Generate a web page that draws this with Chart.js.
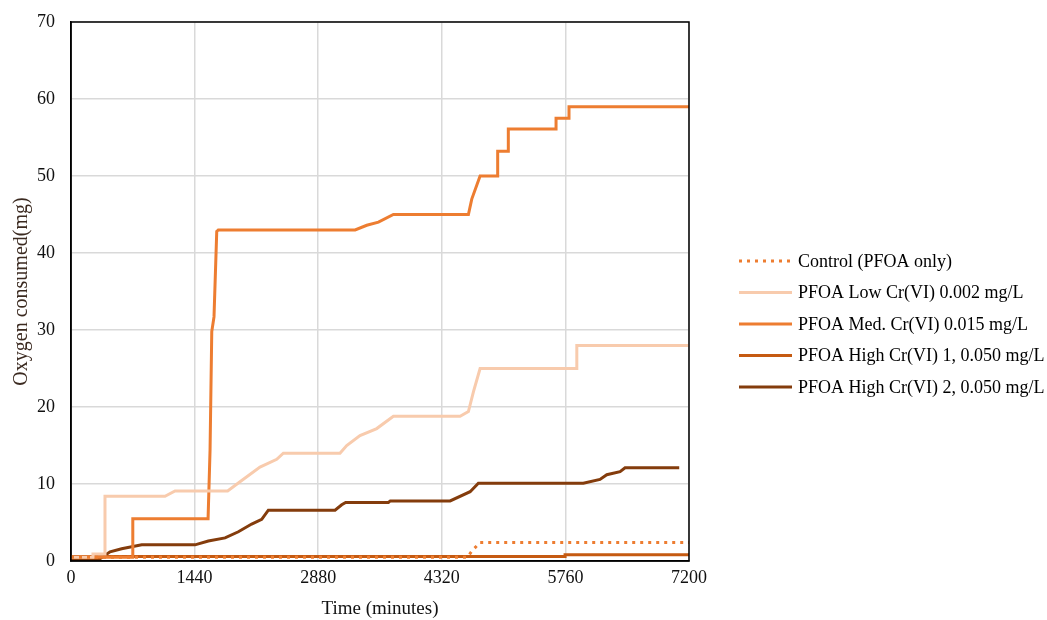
<!DOCTYPE html>
<html>
<head>
<meta charset="utf-8">
<script src="https://cdn.jsdelivr.net/npm/chart.js@4"></script>
<style>
  html, body { margin: 0; padding: 0; background: #fff; }
  #wrap { width: 1047px; height: 620px; }
</style>
</head>
<body>
<div id="wrap"><canvas id="myChart" width="1047" height="620"></canvas></div>
<script>
// values
const seriesNames = ["Control (PFOA only)", "PFOA Low Cr(VI) 0.002 mg/L", "PFOA Med. Cr(VI) 0.015 mg/L",
                     "PFOA High Cr(VI) 1, 0.050 mg/L", "PFOA High Cr(VI) 2, 0.050 mg/L"];

const controlTime = [0, 4620, 4670, 4766, 7200];
const controlO2   = [0.5, 0.5, 1.3, 2.4, 2.4];

const lowTime = [0, 256, 256, 396, 396, 1095, 1212, 1825, 1969, 2202, 2397, 2474, 3134, 3212, 3367, 3562, 3756,
                 4533, 4630, 4689, 4766, 5893, 5893, 7200];
const lowO2   = [0.5, 0.5, 0.9, 0.9, 8.4, 8.4, 9.1, 9.1, 10.3, 12.2, 13.2, 14.0, 14.0, 15.0, 16.3, 17.2, 18.8,
                 18.8, 19.4, 22.0, 25.0, 25.0, 28.0, 28.0];

const medTime = [0, 720, 720, 1597, 1620, 1640, 1666, 1698, 1716, 3310, 3446, 3582, 3756, 4630, 4669, 4766,
                 4971, 4971, 5095, 5095, 5651, 5651, 5802, 5802, 7200];
const medO2   = [0.5, 0.5, 5.5, 5.5, 14.4, 29.8, 31.7, 42.8, 43.0, 43.0, 43.6, 44.0, 45.0, 45.0, 47.0, 50.0,
                 50.0, 53.2, 53.2, 56.1, 56.1, 57.5, 57.5, 59.0, 59.0];

const high1Time = [0, 5756, 5756, 7200];
const high1O2   = [0.6, 0.6, 0.8, 0.8];

const high2Time = [0, 338, 455, 590, 824, 1445, 1600, 1795, 1950, 2105, 2222, 2299, 3076, 3154, 3200, 3698, 3720,
                   4417, 4650, 4746, 5969, 6163, 6242, 6397, 6455, 7086];
const high2O2   = [0.3, 0.3, 1.2, 1.6, 2.1, 2.1, 2.6, 3.0, 3.8, 4.8, 5.4, 6.6, 6.6, 7.3, 7.6, 7.6, 7.8,
                   7.8, 9.0, 10.1, 10.1, 10.6, 11.2, 11.6, 12.1, 12.1];

const xTicks = [0, 1440, 2880, 4320, 5760, 7200];

function pts(t, v) {
    return t.map((x, i) => ({x: x, y: v[i]}));
}

const serif = "'Liberation Serif', 'Times New Roman', serif";

// black frame round the plot area
const frame = {
    id: 'frame',
    afterDraw(chart) {
        const a = chart.chartArea, ctx = chart.ctx;
        ctx.save();
        ctx.strokeStyle = '#000';
        ctx.lineWidth = 1.5;
        ctx.strokeRect(a.left, a.top, a.right - a.left, a.bottom - a.top);
        ctx.restore();
    }
};

// legend drawn by hand so the dotted sample shows and it sits where the original has it
const sideLegend = {
    id: 'sideLegend',
    afterDraw(chart) {
        const ctx = chart.ctx;
        const x0 = 739, x1 = 792, tx = 798, y0 = 261, dy = 31.5;
        ctx.save();
        ctx.font = "18px " + serif;
        ctx.textBaseline = 'middle';
        ctx.fillStyle = '#000';
        chart.data.datasets.forEach((d, i) => {
            const y = y0 + i * dy;
            ctx.strokeStyle = d.borderColor;
            ctx.lineWidth = d.borderWidth;
            ctx.setLineDash(d.borderDash);
            ctx.beginPath();
            ctx.moveTo(x0, y);
            ctx.lineTo(x1, y);
            ctx.stroke();
            ctx.setLineDash([]);
            ctx.fillText(d.label, tx, y + 1);
        });
        ctx.restore();
    }
};

function ds(label, t, v, color, dash) {
    return {
        label: label,
        data: pts(t, v),
        borderColor: color,
        backgroundColor: color,
        borderWidth: 3,
        borderDash: dash || [],
        pointRadius: 0,
        tension: 0,
        fill: false
    };
}

new Chart(document.getElementById("myChart"), {
    type: 'line',
    data: {
        datasets: [
            ds(seriesNames[0], controlTime, controlO2, '#ED7D31', [3, 5]),
            ds(seriesNames[1], lowTime, lowO2, '#F8CBAD'),
            ds(seriesNames[2], medTime, medO2, '#ED7D31'),
            ds(seriesNames[3], high1Time, high1O2, '#C55A11'),
            ds(seriesNames[4], high2Time, high2O2, '#843C0C')
        ]
    },
    options: {
        responsive: false,
        animation: false,
        layout: { padding: { top: 22, right: 358, bottom: 0, left: 10 } },
        plugins: {
            tooltip: { enabled: false },
            legend: { display: false }
        },
        scales: {
            x: {
                type: 'linear',
                min: 0, max: 7200,
                afterBuildTicks(axis) { axis.ticks = xTicks.map(v => ({value: v})); },
                afterFit(axis) { axis.height = 59; axis.paddingLeft = 0; axis.paddingRight = 0; },
                grid: { color: '#d9d9d9', lineWidth: 1.5, drawTicks: false },
                border: { color: '#000', width: 1.5 },
                ticks: { color: '#111', padding: 6, font: { family: serif, size: 18 }, callback: v => String(v) },
                title: { display: true, text: 'Time (minutes)', color: '#111', font: { family: serif, size: 19 }, padding: 0 }
            },
            y: {
                min: 0, max: 70,
                afterFit(axis) { axis.width = 61; axis.paddingTop = 0; axis.paddingBottom = 0; },
                ticks: { stepSize: 10, color: '#111', padding: 16, font: { family: serif, size: 18 } },
                grid: { color: '#d9d9d9', lineWidth: 1.5, drawTicks: false },
                border: { color: '#000', width: 1.5 },
                title: { display: true, text: 'Oxygen consumed(mg)', color: '#3b2a20', font: { family: serif, size: 20 }, padding: 0 }
            }
        }
    },
    plugins: [frame, sideLegend]
});
</script>
</body>
</html>
